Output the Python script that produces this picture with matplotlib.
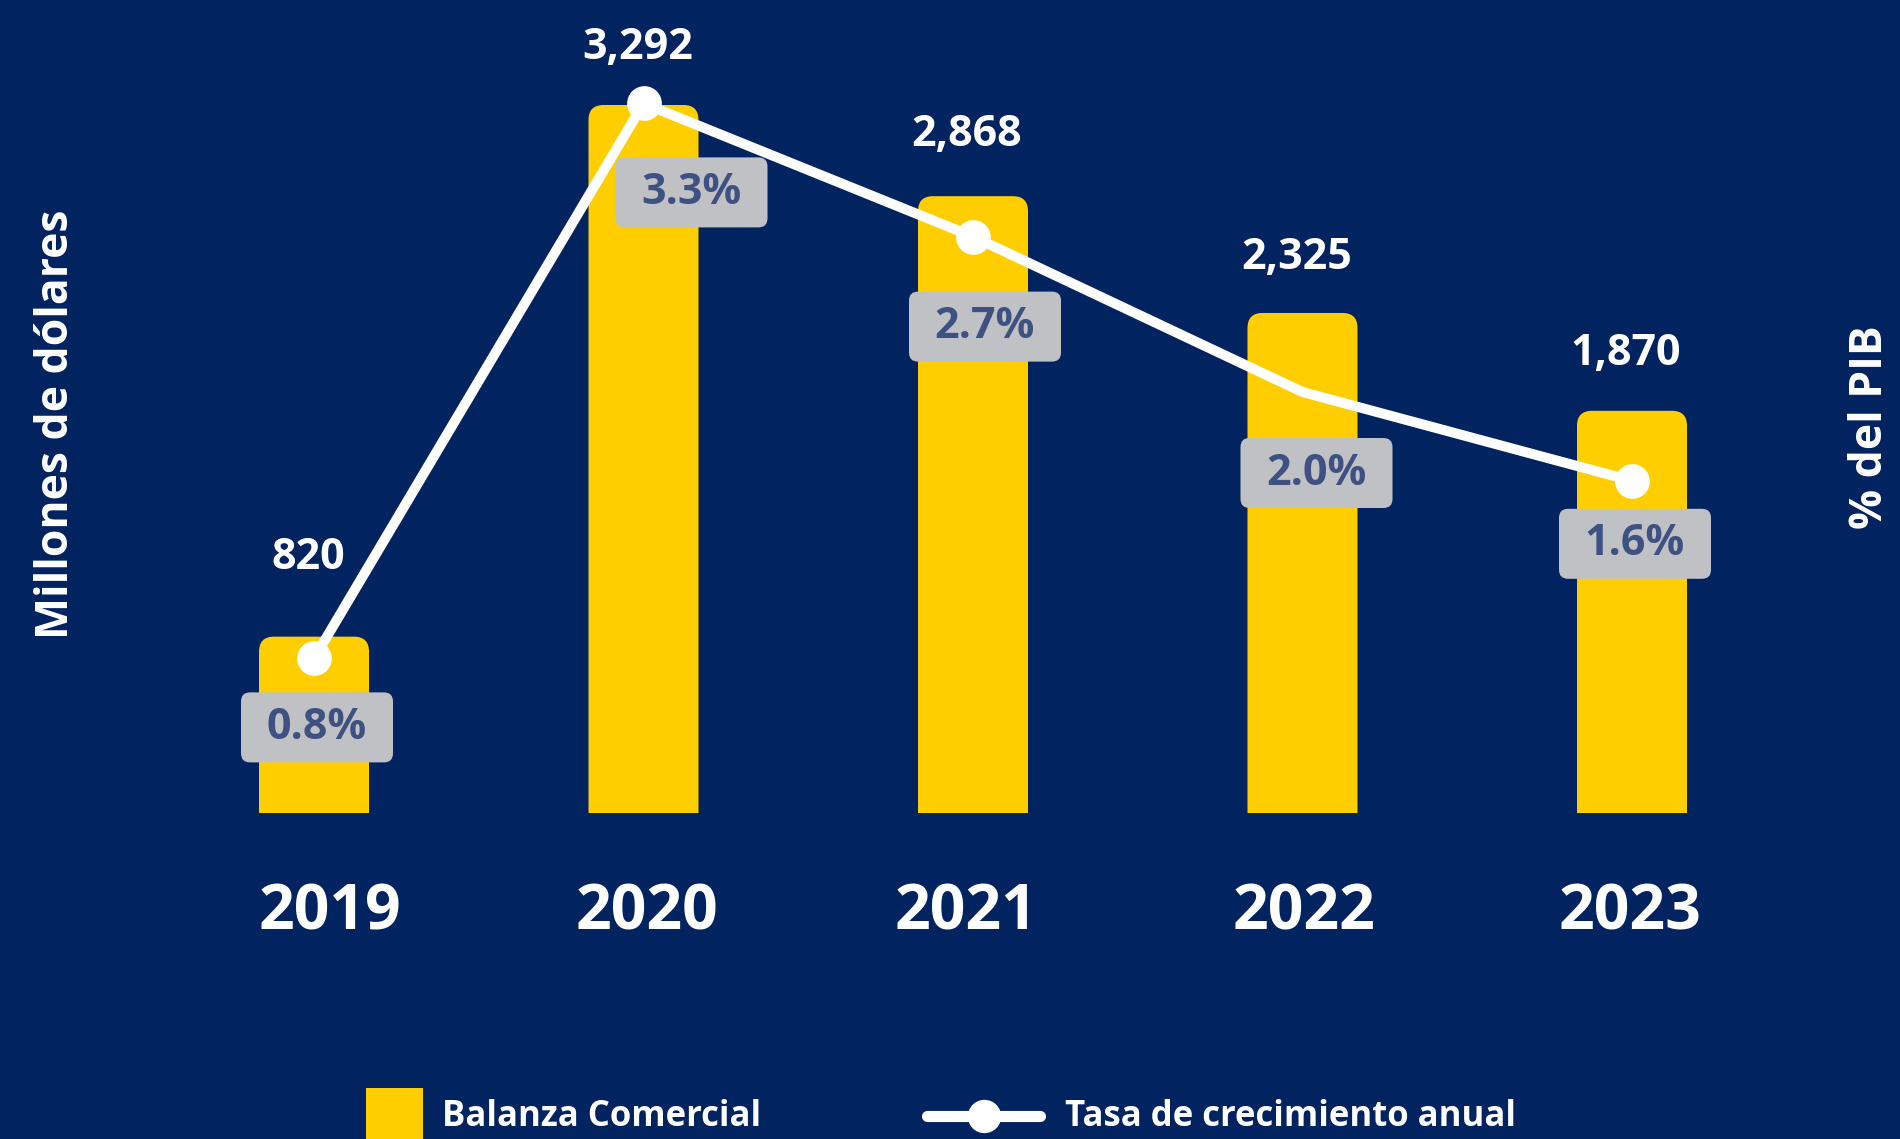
import numpy as np
import matplotlib.pyplot as plt
from matplotlib.patches import FancyBboxPatch, Rectangle, PathPatch
from matplotlib.path import Path
from matplotlib.lines import Line2D
from matplotlib.transforms import IdentityTransform

# datos
years = ['2019', '2020', '2021', '2022', '2023']
balanza = [820, 3292, 2868, 2325, 1870]
balanza_txt = ['820', '3,292', '2,868', '2,325', '1,870']
tasa = [0.8, 3.3, 2.7, 2.0, 1.6]
tasa_txt = ['0.8%', '3.3%', '2.7%', '2.0%', '1.6%']

# colores
fondo = '#012360'
amarillo = '#ffce00'
gris = '#c0c1c4'
texto_caja = '#3e5182'

# desplazamientos de etiquetas (pixeles)
dy_valor = [79, 57, 62, 55, 57]
dx_caja = [3, 48, 12, 14, 3]
dy_caja = [69, 89, 90, 81, 63]
dx_year = [16, 4, -7, 2, -2]

W, H = 1900, 1139
plt.rcParams['font.family'] = ['Open Sans', 'DejaVu Sans']

fig = plt.figure(figsize=(W / 100, H / 100), dpi=100, facecolor=fondo)
ax = fig.add_axes([0, 1 - 813 / H, 1, 813 / H])
x = np.arange(len(years))
ax.set_xlim(-314 / 329.5, (W - 314) / 329.5)
ax.set_ylim(0, 813 / 0.21507)
ax2 = ax.twinx()
ax2.set_ylim((836 - 813) / 222, 836 / 222)
ax.axis('off')
ax2.axis('off')


def barra_redondeada(x0, w, h, rx, ry):
    # solo las esquinas de arriba redondeadas
    verts = [(x0, 0), (x0, h - ry), (x0, h), (x0 + rx, h), (x0 + w - rx, h),
             (x0 + w, h), (x0 + w, h - ry), (x0 + w, 0), (x0, 0)]
    codes = [Path.MOVETO, Path.LINETO, Path.CURVE3, Path.CURVE3, Path.LINETO,
             Path.CURVE3, Path.CURVE3, Path.LINETO, Path.CLOSEPOLY]
    return Path(verts, codes)


barras = ax.bar(x, balanza, width=110 / 329.5, color=amarillo)
for b in barras:
    b.set_visible(False)
    path = barra_redondeada(b.get_x(), b.get_width(), b.get_height(), 15 / 329.5, 15 / 0.21507)
    ax.add_patch(PathPatch(path, fc=amarillo, ec='none'))

for i, v in enumerate(balanza):
    ax.annotate(balanza_txt[i], (x[i], v), xytext=(-6, dy_valor[i]), textcoords='offset pixels',
                ha='center', va='center', color='white', fontsize=31, fontweight='bold')
    ax.annotate(years[i], (x[i], 0), xycoords=('data', 'axes fraction'), xytext=(dx_year[i], -100),
                textcoords='offset pixels', ha='center', va='center', color='white',
                fontsize=45, fontweight='bold')

# linea de tasa
ax2.plot(x, tasa, color='white', lw=7.2, marker='o', ms=25, mew=0,
         markevery=[0, 1, 2, 4], zorder=3)

# cajas de porcentaje
for i, p in enumerate(tasa):
    px, py = ax2.transData.transform((x[i], p))
    cx, cy = px + dx_caja[i], py - dy_caja[i]
    caja = FancyBboxPatch((cx - 76, cy - 35), 152, 70, boxstyle='round,pad=0,rounding_size=9',
                          fc=gris, ec='none', transform=IdentityTransform(), zorder=4)
    ax2.add_artist(caja)
    ax2.annotate(tasa_txt[i], (x[i], p), xytext=(dx_caja[i], -dy_caja[i]), textcoords='offset pixels',
                 ha='center', va='center', color=texto_caja, fontsize=31, fontweight='bold',
                 zorder=5)

# titulos de ejes
fig.text(57 / W, 1 - 424 / H, 'Millones de dólares', rotation=90, ha='center', va='center',
         color='white', fontsize=32, fontweight='bold')
fig.text(1871 / W, 1 - 427 / H, '% del PIB', rotation=90, ha='center', va='center',
         color='white', fontsize=32, fontweight='bold')

# leyenda
fig.add_artist(Rectangle((366 / W, 1 - 1146 / H), 57 / W, 58 / H, transform=fig.transFigure,
                         fc=amarillo, ec='none'))
fig.text(442 / W, 1 - 1117 / H, 'Balanza Comercial', ha='left', va='center',
         color='white', fontsize=25, fontweight='bold')
fig.add_artist(Line2D([927 / W, 1040 / W], [1 - 1116 / H] * 2, transform=fig.transFigure,
                      color='white', lw=8, solid_capstyle='round'))
fig.add_artist(Line2D([984 / W], [1 - 1116 / H], transform=fig.transFigure, color='white',
                      marker='o', ms=24, mew=0))
fig.text(1065 / W, 1 - 1117 / H, 'Tasa de crecimiento anual', ha='left', va='center',
         color='white', fontsize=25, fontweight='bold')

fig.savefig('out.png', dpi=100, facecolor=fondo)
